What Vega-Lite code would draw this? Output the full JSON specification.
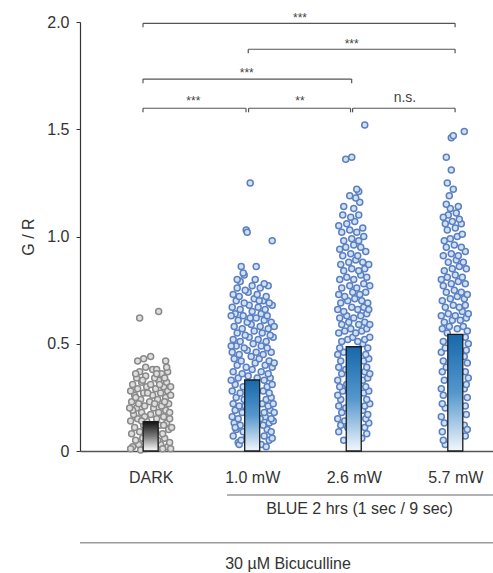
{
"$schema":"https://vega.github.io/schema/vega-lite/v6.json",
"autosize":{"type":"none"},
"width":413,"height":429,
"padding":{"left":80,"top":22,"right":0,"bottom":122},
"config":{"view":{"stroke":null},"font":"Liberation Sans"},
"datasets":{
"pts":[
{"g":"DARK","j":-18,"v":0.02},{"g":"DARK","j":-12,"v":0.03},{"g":"DARK","j":-5,"v":0.01},{"g":"DARK","j":3,"v":0.02},{"g":"DARK","j":10,"v":0.03},{"g":"DARK","j":17,"v":0.02},{"g":"DARK","j":-15,"v":0.05},{"g":"DARK","j":-8,"v":0.06},{"g":"DARK","j":0,"v":0.04},{"g":"DARK","j":7,"v":0.05},{"g":"DARK","j":14,"v":0.06},{"g":"DARK","j":19,"v":0.04},{"g":"DARK","j":-19,"v":0.08},{"g":"DARK","j":-11,"v":0.09},{"g":"DARK","j":-3,"v":0.08},{"g":"DARK","j":5,"v":0.09},{"g":"DARK","j":12,"v":0.08},{"g":"DARK","j":18,"v":0.1},{"g":"DARK","j":-16,"v":0.11},{"g":"DARK","j":-7,"v":0.12},{"g":"DARK","j":2,"v":0.11},{"g":"DARK","j":9,"v":0.12},{"g":"DARK","j":16,"v":0.13},{"g":"DARK","j":-20,"v":0.14},{"g":"DARK","j":-13,"v":0.15},{"g":"DARK","j":-4,"v":0.14},{"g":"DARK","j":6,"v":0.15},{"g":"DARK","j":13,"v":0.16},{"g":"DARK","j":19,"v":0.15},{"g":"DARK","j":-17,"v":0.17},{"g":"DARK","j":-9,"v":0.18},{"g":"DARK","j":0,"v":0.17},{"g":"DARK","j":8,"v":0.18},{"g":"DARK","j":15,"v":0.19},{"g":"DARK","j":-14,"v":0.2},{"g":"DARK","j":-6,"v":0.21},{"g":"DARK","j":3,"v":0.2},{"g":"DARK","j":11,"v":0.21},{"g":"DARK","j":18,"v":0.22},{"g":"DARK","j":-19,"v":0.23},{"g":"DARK","j":-10,"v":0.24},{"g":"DARK","j":-1,"v":0.23},{"g":"DARK","j":7,"v":0.24},{"g":"DARK","j":15,"v":0.25},{"g":"DARK","j":-16,"v":0.26},{"g":"DARK","j":-7,"v":0.27},{"g":"DARK","j":2,"v":0.26},{"g":"DARK","j":10,"v":0.27},{"g":"DARK","j":17,"v":0.28},{"g":"DARK","j":-13,"v":0.29},{"g":"DARK","j":-4,"v":0.3},{"g":"DARK","j":5,"v":0.29},{"g":"DARK","j":13,"v":0.3},{"g":"DARK","j":-18,"v":0.31},{"g":"DARK","j":-9,"v":0.32},{"g":"DARK","j":0,"v":0.31},{"g":"DARK","j":8,"v":0.33},{"g":"DARK","j":16,"v":0.32},{"g":"DARK","j":-14,"v":0.34},{"g":"DARK","j":-5,"v":0.35},{"g":"DARK","j":4,"v":0.34},{"g":"DARK","j":11,"v":0.36},{"g":"DARK","j":-11,"v":0.37},{"g":"DARK","j":2,"v":0.38},{"g":"DARK","j":17,"v":0.37},{"g":"DARK","j":-13,"v":0.42},{"g":"DARK","j":-7,"v":0.43},{"g":"DARK","j":0,"v":0.44},{"g":"DARK","j":-5,"v":0.39},{"g":"DARK","j":15,"v":0.42},{"g":"DARK","j":16,"v":0.39},{"g":"DARK","j":6,"v":0.38},{"g":"DARK","j":-11,"v":0.62},{"g":"DARK","j":8,"v":0.65},{"g":"DARK","j":-20,"v":0.01},{"g":"DARK","j":20,"v":0.01},{"g":"DARK","j":-10,"v":0.005},{"g":"DARK","j":12,"v":0.01},{"g":"DARK","j":-2,"v":0.07},{"g":"DARK","j":-18,"v":0.19},{"g":"DARK","j":19,"v":0.18},{"g":"DARK","j":-12,"v":0.22},{"g":"DARK","j":20,"v":0.26},{"g":"DARK","j":-20,"v":0.28},{"g":"DARK","j":13,"v":0.12},{"g":"DARK","j":-6,"v":0.16},{"g":"DARK","j":4,"v":0.22},{"g":"DARK","j":-3,"v":0.27},{"g":"DARK","j":9,"v":0.31},{"g":"DARK","j":14,"v":0.34},{"g":"DARK","j":20,"v":0.3},{"g":"DARK","j":-15,"v":0.36},{"g":"DARK","j":-8,"v":0.33},{"g":"DARK","j":6,"v":0.36},{"g":"DARK","j":-21,"v":0.2},{"g":"DARK","j":21,"v":0.11},{"g":"DARK","j":-9,"v":0.14},{"g":"DARK","j":-15,"v":0.25},{"g":"DARK","j":14,"v":0.23},
{"g":"1.0 mW","j":-14,"v":0.04},{"g":"1.0 mW","j":9,"v":0.03},{"g":"1.0 mW","j":17,"v":0.05},{"g":"1.0 mW","j":-19,"v":0.07},{"g":"1.0 mW","j":-6,"v":0.06},{"g":"1.0 mW","j":12,"v":0.07},{"g":"1.0 mW","j":20,"v":0.06},{"g":"1.0 mW","j":-16,"v":0.1},{"g":"1.0 mW","j":-9,"v":0.09},{"g":"1.0 mW","j":15,"v":0.1},{"g":"1.0 mW","j":19,"v":0.09},{"g":"1.0 mW","j":-18,"v":0.13},{"g":"1.0 mW","j":-12,"v":0.12},{"g":"1.0 mW","j":11,"v":0.12},{"g":"1.0 mW","j":17,"v":0.13},{"g":"1.0 mW","j":21,"v":0.14},{"g":"1.0 mW","j":-20,"v":0.16},{"g":"1.0 mW","j":-14,"v":0.15},{"g":"1.0 mW","j":13,"v":0.16},{"g":"1.0 mW","j":19,"v":0.15},{"g":"1.0 mW","j":-17,"v":0.19},{"g":"1.0 mW","j":-10,"v":0.18},{"g":"1.0 mW","j":12,"v":0.18},{"g":"1.0 mW","j":18,"v":0.19},{"g":"1.0 mW","j":-3,"v":0.18},{"g":"1.0 mW","j":-19,"v":0.22},{"g":"1.0 mW","j":-13,"v":0.21},{"g":"1.0 mW","j":10,"v":0.22},{"g":"1.0 mW","j":16,"v":0.21},{"g":"1.0 mW","j":21,"v":0.22},{"g":"1.0 mW","j":-16,"v":0.25},{"g":"1.0 mW","j":-8,"v":0.24},{"g":"1.0 mW","j":14,"v":0.24},{"g":"1.0 mW","j":19,"v":0.25},{"g":"1.0 mW","j":-20,"v":0.28},{"g":"1.0 mW","j":-12,"v":0.27},{"g":"1.0 mW","j":11,"v":0.28},{"g":"1.0 mW","j":17,"v":0.27},{"g":"1.0 mW","j":-17,"v":0.31},{"g":"1.0 mW","j":-9,"v":0.3},{"g":"1.0 mW","j":15,"v":0.3},{"g":"1.0 mW","j":20,"v":0.31},{"g":"1.0 mW","j":2,"v":0.29},{"g":"1.0 mW","j":-14,"v":0.34},{"g":"1.0 mW","j":-4,"v":0.35},{"g":"1.0 mW","j":5,"v":0.34},{"g":"1.0 mW","j":12,"v":0.33},{"g":"1.0 mW","j":18,"v":0.34},{"g":"1.0 mW","j":-19,"v":0.37},{"g":"1.0 mW","j":-10,"v":0.36},{"g":"1.0 mW","j":0,"v":0.38},{"g":"1.0 mW","j":9,"v":0.37},{"g":"1.0 mW","j":16,"v":0.36},{"g":"1.0 mW","j":-15,"v":0.4},{"g":"1.0 mW","j":-6,"v":0.39},{"g":"1.0 mW","j":3,"v":0.41},{"g":"1.0 mW","j":13,"v":0.4},{"g":"1.0 mW","j":20,"v":0.39},{"g":"1.0 mW","j":-18,"v":0.43},{"g":"1.0 mW","j":-11,"v":0.42},{"g":"1.0 mW","j":-1,"v":0.44},{"g":"1.0 mW","j":7,"v":0.43},{"g":"1.0 mW","j":17,"v":0.42},{"g":"1.0 mW","j":-20,"v":0.46},{"g":"1.0 mW","j":-13,"v":0.45},{"g":"1.0 mW","j":-5,"v":0.47},{"g":"1.0 mW","j":4,"v":0.46},{"g":"1.0 mW","j":11,"v":0.45},{"g":"1.0 mW","j":19,"v":0.46},{"g":"1.0 mW","j":-16,"v":0.49},{"g":"1.0 mW","j":-8,"v":0.48},{"g":"1.0 mW","j":1,"v":0.5},{"g":"1.0 mW","j":9,"v":0.49},{"g":"1.0 mW","j":15,"v":0.48},{"g":"1.0 mW","j":-19,"v":0.52},{"g":"1.0 mW","j":-12,"v":0.51},{"g":"1.0 mW","j":-3,"v":0.53},{"g":"1.0 mW","j":6,"v":0.52},{"g":"1.0 mW","j":14,"v":0.51},{"g":"1.0 mW","j":21,"v":0.53},{"g":"1.0 mW","j":-15,"v":0.55},{"g":"1.0 mW","j":-7,"v":0.54},{"g":"1.0 mW","j":2,"v":0.56},{"g":"1.0 mW","j":10,"v":0.55},{"g":"1.0 mW","j":18,"v":0.54},{"g":"1.0 mW","j":-18,"v":0.58},{"g":"1.0 mW","j":-10,"v":0.57},{"g":"1.0 mW","j":-1,"v":0.59},{"g":"1.0 mW","j":8,"v":0.58},{"g":"1.0 mW","j":16,"v":0.57},{"g":"1.0 mW","j":-14,"v":0.61},{"g":"1.0 mW","j":-5,"v":0.6},{"g":"1.0 mW","j":4,"v":0.62},{"g":"1.0 mW","j":12,"v":0.61},{"g":"1.0 mW","j":19,"v":0.6},{"g":"1.0 mW","j":-17,"v":0.64},{"g":"1.0 mW","j":-9,"v":0.63},{"g":"1.0 mW","j":0,"v":0.65},{"g":"1.0 mW","j":9,"v":0.64},{"g":"1.0 mW","j":15,"v":0.63},{"g":"1.0 mW","j":-20,"v":0.67},{"g":"1.0 mW","j":-12,"v":0.66},{"g":"1.0 mW","j":-3,"v":0.68},{"g":"1.0 mW","j":6,"v":0.67},{"g":"1.0 mW","j":13,"v":0.66},{"g":"1.0 mW","j":20,"v":0.68},{"g":"1.0 mW","j":-16,"v":0.7},{"g":"1.0 mW","j":-8,"v":0.69},{"g":"1.0 mW","j":2,"v":0.71},{"g":"1.0 mW","j":11,"v":0.7},{"g":"1.0 mW","j":17,"v":0.69},{"g":"1.0 mW","j":-19,"v":0.73},{"g":"1.0 mW","j":-13,"v":0.72},{"g":"1.0 mW","j":-4,"v":0.74},{"g":"1.0 mW","j":5,"v":0.73},{"g":"1.0 mW","j":14,"v":0.72},{"g":"1.0 mW","j":-15,"v":0.76},{"g":"1.0 mW","j":-7,"v":0.75},{"g":"1.0 mW","j":8,"v":0.76},{"g":"1.0 mW","j":16,"v":0.77},{"g":"1.0 mW","j":-12,"v":0.79},{"g":"1.0 mW","j":3,"v":0.8},{"g":"1.0 mW","j":12,"v":0.78},{"g":"1.0 mW","j":-8,"v":0.82},{"g":"1.0 mW","j":-15,"v":0.8},{"g":"1.0 mW","j":-11,"v":0.86},{"g":"1.0 mW","j":4,"v":0.86},{"g":"1.0 mW","j":-9,"v":0.83},{"g":"1.0 mW","j":-6,"v":1.03},{"g":"1.0 mW","j":-5,"v":1.02},{"g":"1.0 mW","j":-2,"v":1.25},{"g":"1.0 mW","j":20,"v":0.98},{"g":"1.0 mW","j":-13,"v":0.03},{"g":"1.0 mW","j":14,"v":0.02},{"g":"1.0 mW","j":-17,"v":0.11},{"g":"1.0 mW","j":8,"v":0.15},{"g":"1.0 mW","j":-7,"v":0.21},{"g":"1.0 mW","j":-11,"v":0.05},{"g":"1.0 mW","j":22,"v":0.18},{"g":"1.0 mW","j":-21,"v":0.33},{"g":"1.0 mW","j":22,"v":0.41},{"g":"1.0 mW","j":-21,"v":0.49},{"g":"1.0 mW","j":22,"v":0.58},{"g":"1.0 mW","j":-21,"v":0.63},{"g":"1.0 mW","j":-2,"v":0.62},{"g":"1.0 mW","j":7,"v":0.7},{"g":"1.0 mW","j":0,"v":0.77},
{"g":"2.6 mW","j":-10,"v":0.05},{"g":"2.6 mW","j":8,"v":0.06},{"g":"2.6 mW","j":-15,"v":0.09},{"g":"2.6 mW","j":13,"v":0.08},{"g":"2.6 mW","j":-13,"v":0.12},{"g":"2.6 mW","j":-6,"v":0.11},{"g":"2.6 mW","j":11,"v":0.11},{"g":"2.6 mW","j":15,"v":0.13},{"g":"2.6 mW","j":-16,"v":0.15},{"g":"2.6 mW","j":-9,"v":0.14},{"g":"2.6 mW","j":12,"v":0.15},{"g":"2.6 mW","j":-12,"v":0.18},{"g":"2.6 mW","j":14,"v":0.17},{"g":"2.6 mW","j":9,"v":0.19},{"g":"2.6 mW","j":-15,"v":0.21},{"g":"2.6 mW","j":-8,"v":0.2},{"g":"2.6 mW","j":11,"v":0.21},{"g":"2.6 mW","j":16,"v":0.22},{"g":"2.6 mW","j":-13,"v":0.24},{"g":"2.6 mW","j":13,"v":0.24},{"g":"2.6 mW","j":-16,"v":0.26},{"g":"2.6 mW","j":10,"v":0.27},{"g":"2.6 mW","j":15,"v":0.28},{"g":"2.6 mW","j":-11,"v":0.28},{"g":"2.6 mW","j":-14,"v":0.3},{"g":"2.6 mW","j":-7,"v":0.31},{"g":"2.6 mW","j":12,"v":0.3},{"g":"2.6 mW","j":-16,"v":0.33},{"g":"2.6 mW","j":9,"v":0.33},{"g":"2.6 mW","j":14,"v":0.34},{"g":"2.6 mW","j":-12,"v":0.36},{"g":"2.6 mW","j":11,"v":0.37},{"g":"2.6 mW","j":16,"v":0.36},{"g":"2.6 mW","j":-15,"v":0.39},{"g":"2.6 mW","j":-8,"v":0.38},{"g":"2.6 mW","j":13,"v":0.39},{"g":"2.6 mW","j":-13,"v":0.42},{"g":"2.6 mW","j":10,"v":0.42},{"g":"2.6 mW","j":15,"v":0.43},{"g":"2.6 mW","j":-16,"v":0.45},{"g":"2.6 mW","j":-10,"v":0.46},{"g":"2.6 mW","j":12,"v":0.45},{"g":"2.6 mW","j":-14,"v":0.48},{"g":"2.6 mW","j":14,"v":0.48},{"g":"2.6 mW","j":9,"v":0.5},{"g":"2.6 mW","j":-12,"v":0.51},{"g":"2.6 mW","j":-6,"v":0.52},{"g":"2.6 mW","j":-1,"v":0.53},{"g":"2.6 mW","j":4,"v":0.51},{"g":"2.6 mW","j":11,"v":0.52},{"g":"2.6 mW","j":16,"v":0.53},{"g":"2.6 mW","j":-15,"v":0.55},{"g":"2.6 mW","j":-9,"v":0.56},{"g":"2.6 mW","j":-3,"v":0.57},{"g":"2.6 mW","j":2,"v":0.55},{"g":"2.6 mW","j":8,"v":0.56},{"g":"2.6 mW","j":13,"v":0.57},{"g":"2.6 mW","j":-12,"v":0.59},{"g":"2.6 mW","j":-5,"v":0.6},{"g":"2.6 mW","j":5,"v":0.59},{"g":"2.6 mW","j":11,"v":0.6},{"g":"2.6 mW","j":16,"v":0.59},{"g":"2.6 mW","j":-14,"v":0.62},{"g":"2.6 mW","j":-7,"v":0.63},{"g":"2.6 mW","j":0,"v":0.62},{"g":"2.6 mW","j":7,"v":0.63},{"g":"2.6 mW","j":13,"v":0.64},{"g":"2.6 mW","j":-16,"v":0.66},{"g":"2.6 mW","j":-10,"v":0.65},{"g":"2.6 mW","j":-2,"v":0.67},{"g":"2.6 mW","j":4,"v":0.66},{"g":"2.6 mW","j":10,"v":0.67},{"g":"2.6 mW","j":15,"v":0.66},{"g":"2.6 mW","j":-13,"v":0.69},{"g":"2.6 mW","j":-6,"v":0.7},{"g":"2.6 mW","j":1,"v":0.71},{"g":"2.6 mW","j":8,"v":0.7},{"g":"2.6 mW","j":14,"v":0.69},{"g":"2.6 mW","j":-15,"v":0.73},{"g":"2.6 mW","j":-9,"v":0.72},{"g":"2.6 mW","j":-1,"v":0.74},{"g":"2.6 mW","j":6,"v":0.73},{"g":"2.6 mW","j":12,"v":0.74},{"g":"2.6 mW","j":-12,"v":0.76},{"g":"2.6 mW","j":-4,"v":0.77},{"g":"2.6 mW","j":3,"v":0.76},{"g":"2.6 mW","j":10,"v":0.78},{"g":"2.6 mW","j":16,"v":0.77},{"g":"2.6 mW","j":-14,"v":0.8},{"g":"2.6 mW","j":-7,"v":0.81},{"g":"2.6 mW","j":0,"v":0.8},{"g":"2.6 mW","j":7,"v":0.82},{"g":"2.6 mW","j":13,"v":0.81},{"g":"2.6 mW","j":-10,"v":0.84},{"g":"2.6 mW","j":-2,"v":0.85},{"g":"2.6 mW","j":5,"v":0.84},{"g":"2.6 mW","j":11,"v":0.85},{"g":"2.6 mW","j":-13,"v":0.87},{"g":"2.6 mW","j":-5,"v":0.88},{"g":"2.6 mW","j":2,"v":0.89},{"g":"2.6 mW","j":9,"v":0.88},{"g":"2.6 mW","j":15,"v":0.87},{"g":"2.6 mW","j":-11,"v":0.91},{"g":"2.6 mW","j":-3,"v":0.92},{"g":"2.6 mW","j":4,"v":0.91},{"g":"2.6 mW","j":12,"v":0.93},{"g":"2.6 mW","j":-8,"v":0.95},{"g":"2.6 mW","j":0,"v":0.96},{"g":"2.6 mW","j":7,"v":0.95},{"g":"2.6 mW","j":-14,"v":0.94},{"g":"2.6 mW","j":-10,"v":0.98},{"g":"2.6 mW","j":-2,"v":0.99},{"g":"2.6 mW","j":5,"v":0.98},{"g":"2.6 mW","j":10,"v":1.0},{"g":"2.6 mW","j":-12,"v":1.02},{"g":"2.6 mW","j":-4,"v":1.03},{"g":"2.6 mW","j":3,"v":1.02},{"g":"2.6 mW","j":9,"v":1.04},{"g":"2.6 mW","j":-7,"v":1.06},{"g":"2.6 mW","j":1,"v":1.07},{"g":"2.6 mW","j":-15,"v":1.05},{"g":"2.6 mW","j":-3,"v":1.09},{"g":"2.6 mW","j":5,"v":1.1},{"g":"2.6 mW","j":-11,"v":1.1},{"g":"2.6 mW","j":-10,"v":1.14},{"g":"2.6 mW","j":0,"v":1.13},{"g":"2.6 mW","j":6,"v":1.16},{"g":"2.6 mW","j":2,"v":1.18},{"g":"2.6 mW","j":5,"v":1.21},{"g":"2.6 mW","j":3,"v":1.22},{"g":"2.6 mW","j":-4,"v":1.19},{"g":"2.6 mW","j":-8,"v":1.36},{"g":"2.6 mW","j":-2,"v":1.37},{"g":"2.6 mW","j":11,"v":1.52},
{"g":"5.7 mW","j":-10,"v":0.03},{"g":"5.7 mW","j":-12,"v":0.05},{"g":"5.7 mW","j":10,"v":0.07},{"g":"5.7 mW","j":-13,"v":0.09},{"g":"5.7 mW","j":9,"v":0.12},{"g":"5.7 mW","j":-11,"v":0.13},{"g":"5.7 mW","j":12,"v":0.1},{"g":"5.7 mW","j":-14,"v":0.16},{"g":"5.7 mW","j":11,"v":0.17},{"g":"5.7 mW","j":-10,"v":0.2},{"g":"5.7 mW","j":10,"v":0.21},{"g":"5.7 mW","j":-13,"v":0.22},{"g":"5.7 mW","j":12,"v":0.25},{"g":"5.7 mW","j":-12,"v":0.26},{"g":"5.7 mW","j":-14,"v":0.29},{"g":"5.7 mW","j":9,"v":0.29},{"g":"5.7 mW","j":11,"v":0.31},{"g":"5.7 mW","j":-11,"v":0.33},{"g":"5.7 mW","j":13,"v":0.34},{"g":"5.7 mW","j":-13,"v":0.37},{"g":"5.7 mW","j":10,"v":0.37},{"g":"5.7 mW","j":-9,"v":0.39},{"g":"5.7 mW","j":12,"v":0.41},{"g":"5.7 mW","j":-12,"v":0.42},{"g":"5.7 mW","j":9,"v":0.44},{"g":"5.7 mW","j":-14,"v":0.46},{"g":"5.7 mW","j":11,"v":0.47},{"g":"5.7 mW","j":-10,"v":0.48},{"g":"5.7 mW","j":13,"v":0.5},{"g":"5.7 mW","j":-12,"v":0.51},{"g":"5.7 mW","j":10,"v":0.53},{"g":"5.7 mW","j":-8,"v":0.55},{"g":"5.7 mW","j":-13,"v":0.57},{"g":"5.7 mW","j":-6,"v":0.58},{"g":"5.7 mW","j":2,"v":0.57},{"g":"5.7 mW","j":8,"v":0.58},{"g":"5.7 mW","j":12,"v":0.56},{"g":"5.7 mW","j":-11,"v":0.6},{"g":"5.7 mW","j":-3,"v":0.61},{"g":"5.7 mW","j":5,"v":0.61},{"g":"5.7 mW","j":11,"v":0.62},{"g":"5.7 mW","j":-14,"v":0.63},{"g":"5.7 mW","j":-7,"v":0.64},{"g":"5.7 mW","j":0,"v":0.63},{"g":"5.7 mW","j":7,"v":0.65},{"g":"5.7 mW","j":13,"v":0.64},{"g":"5.7 mW","j":-10,"v":0.67},{"g":"5.7 mW","j":-2,"v":0.68},{"g":"5.7 mW","j":4,"v":0.67},{"g":"5.7 mW","j":10,"v":0.68},{"g":"5.7 mW","j":-13,"v":0.7},{"g":"5.7 mW","j":-5,"v":0.71},{"g":"5.7 mW","j":2,"v":0.72},{"g":"5.7 mW","j":9,"v":0.71},{"g":"5.7 mW","j":-9,"v":0.74},{"g":"5.7 mW","j":-1,"v":0.75},{"g":"5.7 mW","j":6,"v":0.74},{"g":"5.7 mW","j":12,"v":0.73},{"g":"5.7 mW","j":-12,"v":0.77},{"g":"5.7 mW","j":-4,"v":0.78},{"g":"5.7 mW","j":3,"v":0.79},{"g":"5.7 mW","j":10,"v":0.78},{"g":"5.7 mW","j":-8,"v":0.81},{"g":"5.7 mW","j":0,"v":0.82},{"g":"5.7 mW","j":7,"v":0.81},{"g":"5.7 mW","j":-14,"v":0.8},{"g":"5.7 mW","j":-11,"v":0.84},{"g":"5.7 mW","j":-3,"v":0.85},{"g":"5.7 mW","j":4,"v":0.86},{"g":"5.7 mW","j":11,"v":0.85},{"g":"5.7 mW","j":-7,"v":0.88},{"g":"5.7 mW","j":1,"v":0.89},{"g":"5.7 mW","j":8,"v":0.88},{"g":"5.7 mW","j":-12,"v":0.91},{"g":"5.7 mW","j":-4,"v":0.92},{"g":"5.7 mW","j":3,"v":0.91},{"g":"5.7 mW","j":10,"v":0.93},{"g":"5.7 mW","j":-9,"v":0.95},{"g":"5.7 mW","j":-1,"v":0.96},{"g":"5.7 mW","j":6,"v":0.95},{"g":"5.7 mW","j":-11,"v":0.98},{"g":"5.7 mW","j":-5,"v":0.99},{"g":"5.7 mW","j":2,"v":1.0},{"g":"5.7 mW","j":7,"v":1.01},{"g":"5.7 mW","j":-8,"v":1.03},{"g":"5.7 mW","j":0,"v":1.04},{"g":"5.7 mW","j":6,"v":1.06},{"g":"5.7 mW","j":-10,"v":1.06},{"g":"5.7 mW","j":-3,"v":1.07},{"g":"5.7 mW","j":4,"v":1.08},{"g":"5.7 mW","j":-7,"v":1.1},{"g":"5.7 mW","j":1,"v":1.11},{"g":"5.7 mW","j":-12,"v":1.09},{"g":"5.7 mW","j":-5,"v":1.13},{"g":"5.7 mW","j":3,"v":1.14},{"g":"5.7 mW","j":-9,"v":1.15},{"g":"5.7 mW","j":-6,"v":1.19},{"g":"5.7 mW","j":-2,"v":1.22},{"g":"5.7 mW","j":-8,"v":1.25},{"g":"5.7 mW","j":-4,"v":1.31},{"g":"5.7 mW","j":-9,"v":1.37},{"g":"5.7 mW","j":-4,"v":1.46},{"g":"5.7 mW","j":-2,"v":1.47},{"g":"5.7 mW","j":9,"v":1.49}
],
"bars":[{"g":"DARK","m":0.137},{"g":"1.0 mW","m":0.331},{"g":"2.6 mW","m":0.486},{"g":"5.7 mW","m":0.544}],
"br":[
{"x1":0.925,"x2":4.0,"y":1.994,"yb":1.975},
{"x1":1.962,"x2":4.0,"y":1.873,"yb":1.854},
{"x1":0.925,"x2":2.981,"y":1.734,"yb":1.715},
{"x1":0.925,"x2":1.94,"y":1.598,"yb":1.579},
{"x1":1.965,"x2":2.97,"y":1.598,"yb":1.579},
{"x1":2.99,"x2":4.0,"y":1.598,"yb":1.579}
],
"st":[
{"x":2.472,"y":2.001,"t":"***"},
{"x":2.981,"y":1.879,"t":"***"},
{"x":1.947,"y":1.744,"t":"***"},
{"x":1.421,"y":1.612,"t":"***"},
{"x":2.472,"y":1.612,"t":"**"},
{"x":3.506,"y":1.627,"t":"n.s."}
],
"grp":[
{"x1":1.7527,"x2":4.3734,"y":-0.205,"tx":3.058,"ty":-0.2727,"t":"BLUE 2 hrs (1 sec / 9 sec)"},
{"x1":0.3044,"x2":4.3734,"y":-0.4275,"tx":2.354,"ty":-0.527,"t":"30 µM Bicuculline"}
]
},
"resolve":{"scale":{"x":"independent"}},
"layer":[
{"layer":[
{"data":{"name":"pts"},
"mark":{"type":"circle","size":36,"strokeWidth":1.5,"opacity":1},
"encoding":{
"x":{"field":"g","type":"nominal","title":null,
"scale":{"type":"point","domain":["DARK","1.0 mW","2.6 mW","5.7 mW"],"padding":0.5335,"align":0.652},
"axis":{"ticks":false,"tickSize":0,"labelPadding":18,"labelFontSize":16,"labelColor":"#333","domainColor":"#555","domainWidth":1.5,"labelAngle":0,"grid":false}},
"xOffset":{"field":"j","type":"quantitative","scale":{"domain":[-25,25],"range":[-25,25]}},
"y":{"field":"v","type":"quantitative","title":"G / R",
"scale":{"domain":[0,2],"nice":false},
"axis":{"values":[0,0.5,1,1.5,2],"labelExpr":"datum.value == 0 ? '0' : format(datum.value, '.1f')","tickSize":4,"labelPadding":7,"domainColor":"#333","tickColor":"#333","labelColor":"#333","labelFontSize":16,"titleFontSize":16,"titleFontWeight":"normal","titleColor":"#333","titlePadding":10,"grid":false,"domainWidth":1.2}},
"fill":{"field":"g","type":"nominal","legend":null,"scale":{"domain":["DARK","1.0 mW","2.6 mW","5.7 mW"],"range":["#dedede","#d3e1f4","#d3e1f4","#d3e1f4"]}},
"stroke":{"field":"g","type":"nominal","legend":null,"scale":{"domain":["DARK","1.0 mW","2.6 mW","5.7 mW"],"range":["#8a8a8a","#5b80c2","#5b80c2","#5b80c2"]}}
}},
{"data":{"name":"bars"},
"transform":[{"filter":"datum.g == 'DARK'"}],
"mark":{"type":"bar","width":15,"stroke":"#1a1a1a","strokeWidth":1.3,
"fill":{"gradient":"linear","x1":0,"y1":0,"x2":0,"y2":1,"stops":[{"offset":0,"color":"#111111"},{"offset":0.5,"color":"#7a7a7a"},{"offset":1,"color":"#ffffff"}]}},
"encoding":{
"x":{"field":"g","type":"nominal","title":null},
"y":{"field":"m","type":"quantitative","title":"G / R"}
}},
{"data":{"name":"bars"},
"transform":[{"filter":"datum.g != 'DARK'"}],
"mark":{"type":"bar","width":15,"stroke":"#1a1a1a","strokeWidth":1.3,
"fill":{"gradient":"linear","x1":0,"y1":0,"x2":0,"y2":1,"stops":[{"offset":0,"color":"#1768ab"},{"offset":0.5,"color":"#5597cd"},{"offset":1,"color":"#f2f7fc"}]}},
"encoding":{
"x":{"field":"g","type":"nominal","title":null},
"y":{"field":"m","type":"quantitative","title":"G / R"}
}}
]},
{"layer":[
{"data":{"name":"br"},
"mark":{"type":"rule","color":"#555","strokeWidth":1.2},
"encoding":{
"x":{"field":"x1","type":"quantitative","axis":null,"scale":{"domain":[0.3044,4.3734],"nice":false,"zero":false}},
"x2":{"field":"x2"},
"y":{"field":"y","type":"quantitative","title":"G / R"}
}},
{"data":{"name":"br"},
"mark":{"type":"rule","color":"#555","strokeWidth":1.2},
"encoding":{
"x":{"field":"x1","type":"quantitative","axis":null},
"y":{"field":"y","type":"quantitative","title":"G / R"},
"y2":{"field":"yb"}
}},
{"data":{"name":"br"},
"mark":{"type":"rule","color":"#555","strokeWidth":1.2},
"encoding":{
"x":{"field":"x2","type":"quantitative","axis":null},
"y":{"field":"y","type":"quantitative","title":"G / R"},
"y2":{"field":"yb"}
}},
{"data":{"name":"st"},
"transform":[{"filter":"datum.t != 'n.s.'"}],
"mark":{"type":"text","fontSize":12,"color":"#444","align":"center","baseline":"alphabetic"},
"encoding":{
"x":{"field":"x","type":"quantitative","axis":null},
"y":{"field":"y","type":"quantitative","title":"G / R"},
"text":{"field":"t"}
}},
{"data":{"name":"st"},
"transform":[{"filter":"datum.t == 'n.s.'"}],
"mark":{"type":"text","fontSize":14,"color":"#444","align":"center","baseline":"alphabetic"},
"encoding":{
"x":{"field":"x","type":"quantitative","axis":null},
"y":{"field":"y","type":"quantitative","title":"G / R"},
"text":{"field":"t"}
}},
{"data":{"name":"grp"},
"mark":{"type":"rule","color":"#999","strokeWidth":1.5},
"encoding":{
"x":{"field":"x1","type":"quantitative","axis":null},
"x2":{"field":"x2"},
"y":{"field":"y","type":"quantitative","title":"G / R"}
}},
{"data":{"name":"grp"},
"mark":{"type":"text","fontSize":16,"color":"#333","align":"center","baseline":"middle"},
"encoding":{
"x":{"field":"tx","type":"quantitative","axis":null},
"y":{"field":"ty","type":"quantitative","title":"G / R"},
"text":{"field":"t"}
}}
]}
]
}
